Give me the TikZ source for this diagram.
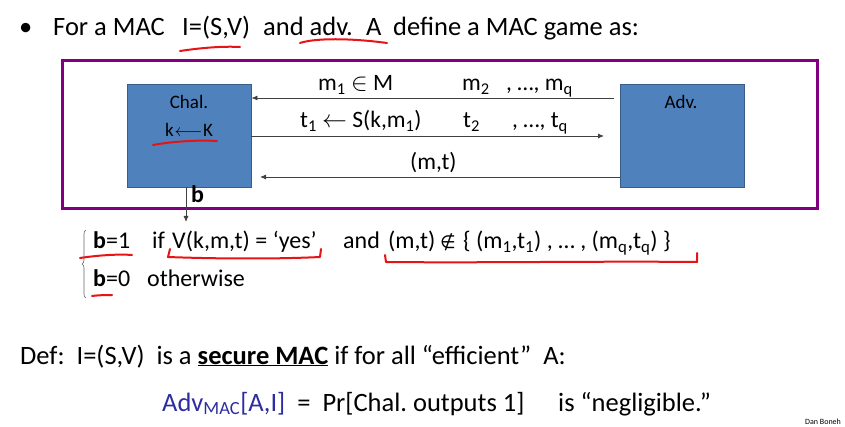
\documentclass[tikz,border=0pt]{standalone}
\usepackage{fontspec}
\setmainfont{Carlito}
\newfontfamily\symfont{DejaVu Sans}
\usetikzlibrary{arrows.meta,decorations.pathreplacing}
\definecolor{boxblue}{RGB}{79,129,189}
\definecolor{boxedge}{RGB}{56,93,138}
\definecolor{framepurple}{RGB}{128,0,128}
\definecolor{advblue}{RGB}{45,45,160}
\definecolor{inkred}{RGB}{230,20,20}
\tikzset{
  txt/.style={inner sep=0pt, anchor=base west, font=\fontsize{26.5}{30}\selectfont},
  body/.style={inner sep=0pt, anchor=base west, font=\fontsize{24}{28}\selectfont},
  lbl/.style={inner sep=0pt, anchor=base west, font=\fontsize{23.5}{27}\selectfont},
  pname/.style={inner sep=0pt, font=\fontsize{19}{23}\selectfont},
  party/.style={draw=boxedge, fill=boxblue, line width=0.8pt, minimum width=124pt, minimum height=103pt, inner sep=0pt},
  msg/.style={draw=black!75, line width=0.8pt, -{Latex[length=6pt,width=5pt]}},
  ink/.style={draw=inkred, line width=2pt, line cap=round, line join=round},
}
\begin{document}
\begin{tikzpicture}[x=1pt,y=-1pt]
\useasboundingbox (0,0) rectangle (845,427);
\fill[white] (0,0) rectangle (845,427);

% top line
\node[txt] (bullet) at (19,36) {•};
\node[txt] (t1a) at (53,36) {For a MAC};
\node[txt] (t1b) at (182,36) {I=(S,V)};
\node[txt] (t1c) at (263,36) {and adv.};
\node[txt] (t1d) at (366,36) {A};
\node[txt] (t1e) at (393,36) {define a MAC game as:};

% frame
\draw[framepurple, line width=3pt] (62,61) rectangle (817,209);

% parties
\node[party] (chal) at (189,135.5) {};
\node[party] (adv) at (682,135.5) {};
\node[pname] (chalname) at (189,102) {Chal.};
\node[pname] (chalkey) at (189,130) {k\kern1pt$\longleftarrow$\kern0.5pt K};
\node[pname] (advname) at (681,102) {Adv.};

% messages
\coordinate (q1) at (614,98);
\coordinate (t1) at (604,136);
\coordinate (f1) at (260,177);
\draw[msg] (q1) -- (q1 -| chal.east);
\draw[msg] (chal.east |- t1) -- (t1);
\draw[msg] (adv.west |- f1) -- (f1);

\node[lbl] (m1) at (318,91) {m\textsubscript{1} $\in$ M};
\node[lbl] (m2) at (462,91) {m\textsubscript{2}};
\node[lbl] (mq) at (506,91) {, …, m\textsubscript{q}};
\node[lbl] (tt1) at (300,128) {t\textsubscript{1} $\leftarrow$ S(k,m\textsubscript{1})};
\node[lbl] (t2) at (463,128) {t\textsubscript{2}};
\node[lbl] (tq) at (512,128) {, …, t\textsubscript{q}};
\node[lbl] (mt) at (410,170) {(m,t)};

% output b
\coordinate (bout) at (186,222);
\draw[msg] (chal.south -| bout) -- (bout);
\node[inner sep=0pt, anchor=base west, font=\fontsize{24}{28}\selectfont\bfseries] (blabel) at (191,203) {b};

% cases
\draw[black!60, line width=0.6pt, decorate, decoration={brace, amplitude=4pt}] (86,298) -- (86,230);
\node[body] (b1) at (93,249) {\textbf{b}=1};
\node[body] (if) at (152,249) {if};
\node[body] (vcond) at (172,249) {V(k,m,t) = `yes’};
\node[body] (and) at (343,249) {and};
\node[body] (mtpair) at (388,249) {(m,t)};
\node[body, font=\fontsize{18}{22}\symfont] (notin) at (440,249) {∉};
\node[body] (set) at (463,249) {\{\ (m\textsubscript{1},t\textsubscript{1})\ ,\ …\ ,\ (m\textsubscript{q},t\textsubscript{q})\ \}};
\node[body] (b0) at (93,287) {\textbf{b}=0};
\node[body] (other) at (147,287) {otherwise};

% definition
\node[txt] (def) at (20,364) {Def:\ \ I=(S,V)\ \ is a \underline{\textbf{secure MAC}} if for all “efficient”\ \ A:};
\node[txt] (advdef) at (162,411) {\textcolor{advblue}{Adv\textsubscript{MAC}[A,I]}\ \ =\ \ Pr[Chal.\ outputs 1]};
\node[txt] (negl) at (558,411) {is “negligible.”};
\node[inner sep=0pt, anchor=base west, font=\fontsize{8}{9}\selectfont] (author) at (805,424) {Dan Boneh};

% red ink annotations
\draw[ink] (180,51) .. controls (200,48) and (222,46) .. (240,47);
\draw[ink] (300,43) .. controls (315,38) and (350,38) .. (387,43);
\draw[ink] (153,145) .. controls (175,141) and (200,140) .. (217,141);
\draw[ink] (80,258) .. controls (100,255) and (120,254) .. (132,255);
\draw[ink] (92,296) .. controls (100,295) and (106,295) .. (112,295);
\draw[ink] (170,249) -- (168,257) .. controls (220,259) and (280,259) .. (320,257) -- (321,249);
\draw[ink] (385,255) -- (386,262) .. controls (480,263) and (600,261) .. (697,262) -- (697,253);
\end{tikzpicture}
\end{document}
